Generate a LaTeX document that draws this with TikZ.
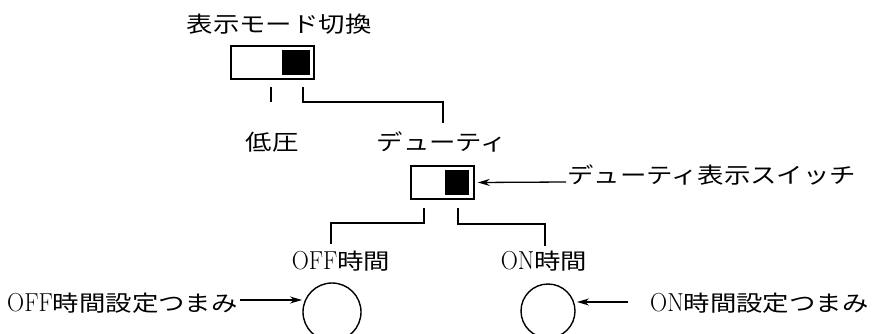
\documentclass[tikz,border=0pt]{standalone}
\usepackage{fontspec}
\usepackage{graphicx}
\newfontfamily\jp{Noto Sans CJK JP}
\usetikzlibrary{arrows.meta}
\newcommand\wtxt[1]{\scalebox{1.2}[1]{#1}}
\newcommand\lat[1]{\scalebox{0.76}[1]{\fontsize{26}{26}\selectfont #1}}
\begin{document}
\begin{tikzpicture}[x=1pt,y=-1pt,
  lbl/.style={inner sep=0pt, font=\fontsize{22}{22}\selectfont},
  lead/.style={line width=1.4pt},
  swbox/.style={draw, line width=1.6pt, inner sep=0pt},
  knob/.style={fill=black, inner sep=0pt},
  dial/.style={draw, circle, line width=1.4pt, inner sep=0pt},
  arr/.style={line width=1.3pt, -{Stealth[length=12pt,width=7pt]}}]
\useasboundingbox (0,0) rectangle (872,334);
\clip (0,0) rectangle (872,334);
% top switch
\node[lbl] (title) at (279,24) {\wtxt{\jp 表示モード切換}};
\node[swbox, minimum width=83pt, minimum height=33pt] (sw1) at (272.5,62.5) {};
\node[knob, minimum width=28pt, minimum height=25pt] (k1) at (296,62.5) {};
\coordinate (t1a) at (271,87);
\coordinate (t1b) at (271,102);
\draw[lead] (t1a) -- (t1b);
\coordinate (r1) at (303,87);
\coordinate (r1e) at (443,123);
\draw[lead] (r1) -- ++(0,15) -| (r1e);
\node[lbl] (low) at (272,142) {\wtxt{\jp 低圧}};
\node[lbl] (duty) at (442,142) {\wtxt{\jp デューティ}};
% duty switch
\node[swbox, minimum width=63pt, minimum height=33pt] (sw2) at (442.5,182.5) {};
\node[knob, minimum width=24pt, minimum height=25pt] (k2) at (457,182.5) {};
\node[lbl, anchor=west] (dsw) at (567,175) {\wtxt{\jp デューティ表示スイッチ}};
\draw[arr] ([xshift=-1pt]dsw.west |- 0,182) -- ([xshift=3pt]sw2.east);
\coordinate (l2) at (424,208);
\coordinate (l2e) at (331,244);
\draw[lead] (l2) -- ++(0,15) -| (l2e);
\coordinate (r2) at (458,208);
\coordinate (r2e) at (545,246);
\draw[lead] (r2) -- ++(0,16) -| (r2e);
\node[lbl] (off) at (341,261) {\wtxt{\lat{OFF}{\jp 時間}}};
\node[lbl] (on) at (544,261) {\wtxt{\lat{ON}{\jp 時間}}};
% dials
\node[dial, minimum size=58pt] (dl) at (332,312) {};
\node[dial, minimum size=54pt] (dr) at (548,311) {};
\node[lbl, anchor=west] (offk) at (7,303) {\wtxt{\lat{OFF}{\jp 時間設定つまみ}}};
\node[lbl, anchor=west] (onk) at (650,303) {\wtxt{\lat{ON}{\jp 時間設定つまみ}}};
\draw[arr] ([xshift=2pt]offk.east |- 0,300) -- (302,300);
\draw[arr] (628,302) -- (577,302);
\end{tikzpicture}
\end{document}
